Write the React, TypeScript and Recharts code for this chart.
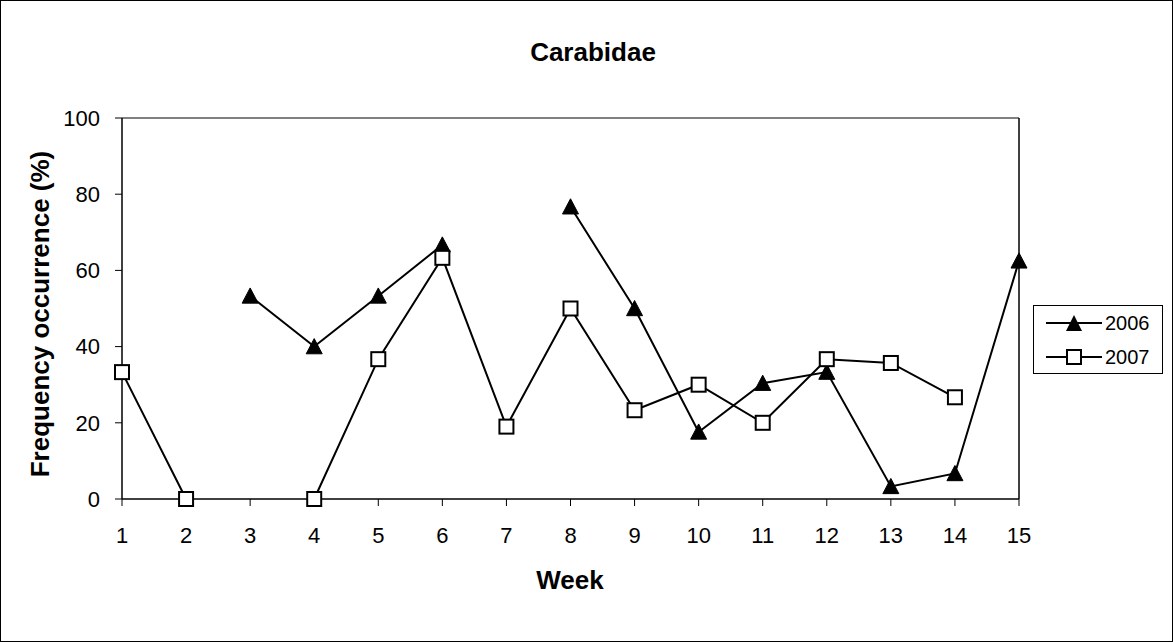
import React from "react";
import {
  LineChart,
  Line,
  XAxis,
  YAxis,
  ReferenceLine,
  Label,
} from "recharts";

const weeks = [1, 2, 3, 4, 5, 6, 7, 8, 9, 10, 11, 12, 13, 14, 15];
const series2006 = [null, null, 53.3, 40, 53.3, 66.7, null, 76.7, 50, 17.6, 30.4, 33.3, 3.3, 6.7, 62.5];
const series2007 = [33.3, 0, null, 0, 36.7, 63.3, 19, 50, 23.3, 30, 20, 36.7, 35.7, 26.7, null];
const xTicks = [1, 2, 3, 4, 5, 6, 7, 8, 9, 10, 11, 12, 13, 14, 15];
const yTicks = [0, 20, 40, 60, 80, 100];
const seriesNames = ["2006", "2007"];
const title = "Carabidae";
const xTitle = "Week";
const yTitle = "Frequency occurrence (%)";

const data = weeks.map((w, i) => ({ week: w, y2006: series2006[i], y2007: series2007[i] }));

const FONT = "'Liberation Sans', Arial, sans-serif";

const TriangleDot = (props: any) => {
  const { cx, cy, value } = props;
  if (cx == null || cy == null || value == null) return <g key={props.key} />;
  const s = 8;
  return (
    <polygon
      key={props.key}
      points={`${cx},${cy - s} ${cx - s},${cy + s * 0.9} ${cx + s},${cy + s * 0.9}`}
      fill="#000"
      stroke="#000"
      strokeWidth={1}
    />
  );
};

const SquareDot = (props: any) => {
  const { cx, cy, value } = props;
  if (cx == null || cy == null || value == null) return <g key={props.key} />;
  const s = 7;
  return (
    <rect
      key={props.key}
      x={cx - s}
      y={cy - s}
      width={2 * s}
      height={2 * s}
      fill="#fff"
      stroke="#000"
      strokeWidth={2}
    />
  );
};

const LegendBox = () => (
  <div
    style={{
      position: "absolute",
      left: 1033,
      top: 305,
      width: 130,
      height: 69,
      boxSizing: "border-box",
      border: "1px solid #000",
      background: "#fff",
    }}
  >
    <svg width={128} height={67} style={{ display: "block" }}>
      <line x1={12} y1={17} x2={68} y2={17} stroke="#000" strokeWidth={2} />
      <polygon points="40,9 32,25 48,25" fill="#000" />
      <text x={71} y={17} dominantBaseline="central" fontFamily={FONT} fontSize={20}>{seriesNames[0]}</text>
      <line x1={12} y1={51} x2={68} y2={51} stroke="#000" strokeWidth={2} />
      <rect x={33} y={44} width={14} height={14} fill="#fff" stroke="#000" strokeWidth={2} />
      <text x={71} y={51} dominantBaseline="central" fontFamily={FONT} fontSize={20}>{seriesNames[1]}</text>
    </svg>
  </div>
);

export default function App() {
  return (
    <div style={{ position: "fixed", left: 0, top: 0, width: 1173, height: 642, background: "#fff" }}>
      <LineChart
        width={1173}
        height={642}
        data={data}
        margin={{ top: 118, right: 154, bottom: 83, left: 62 }}
      >
        <XAxis
          dataKey="week"
          type="number"
          domain={[1, 15]}
          ticks={xTicks}
          interval={0}
          height={60}
          stroke="#000"
          tickSize={7}
          tickMargin={21}
          tick={{ fill: "#000", fontSize: 22, fontFamily: FONT }}
          axisLine={{ stroke: "#000", strokeWidth: 1.5 }}
          tickLine={{ stroke: "#000" }}
        >
          <Label
            content={() => (
              <text x={570} y={580} textAnchor="middle" dominantBaseline="central" fontFamily={FONT} fontSize={26} fontWeight="bold" fill="#000">
                {xTitle}
              </text>
            )}
          />
        </XAxis>
        <YAxis
          type="number"
          domain={[0, 100]}
          ticks={yTicks}
          interval={0}
          width={60}
          stroke="#000"
          tickSize={7}
          tickMargin={15}
          tick={{ fill: "#000", fontSize: 22, fontFamily: FONT }}
          axisLine={{ stroke: "#000", strokeWidth: 1.5 }}
          tickLine={{ stroke: "#000" }}
        >
          <Label
            content={() => (
              <text
                x={40}
                y={314}
                transform="rotate(-90 40 314)"
                textAnchor="middle"
                dominantBaseline="central"
                fontFamily={FONT}
                fontSize={26}
                fontWeight="bold"
                fill="#000"
              >
                {yTitle}
              </text>
            )}
          />
        </YAxis>
        <ReferenceLine y={100} stroke="#808080" strokeWidth={2} />
        <ReferenceLine x={15} stroke="#000" strokeWidth={1.5} />
        <Line
          dataKey="y2006"
          name={seriesNames[0]}
          stroke="#000"
          strokeWidth={2}
          dot={TriangleDot}
          activeDot={false}
          connectNulls={false}
          isAnimationActive={false}
        />
        <Line
          dataKey="y2007"
          name={seriesNames[1]}
          stroke="#000"
          strokeWidth={2}
          dot={SquareDot}
          activeDot={false}
          connectNulls={false}
          isAnimationActive={false}
        />
      </LineChart>
      <LegendBox />
      <div
        style={{
          position: "absolute",
          left: 0,
          top: 39,
          width: 1173,
          textAlign: "center",
          fontFamily: FONT,
          fontSize: 26,
          fontWeight: "bold",
          color: "#000",
          pointerEvents: "none",
          lineHeight: "26px",
          paddingLeft: 13,
          boxSizing: "border-box",
        }}
      >
        {title}
      </div>
      <div
        style={{
          position: "absolute",
          left: 0,
          top: 0,
          width: 1173,
          height: 642,
          boxSizing: "border-box",
          border: "1.5px solid #000",
          pointerEvents: "none",
        }}
      />
    </div>
  );
}
